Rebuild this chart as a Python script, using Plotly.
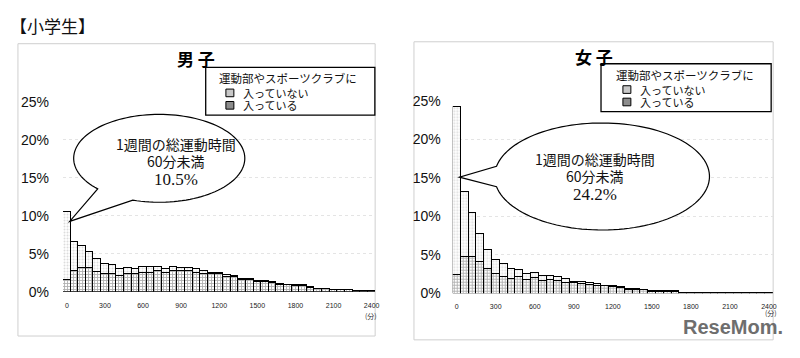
import numpy as np
import plotly.graph_objects as go

W, H = 800, 358
OFF = 8  # the page body adds an 8px margin around the figure; compensate

# ---------------- data (% of pupils) ----------------
minutes = list(range(0, 2401, 60))
x_ticks = list(range(0, 2401, 300))
y_ticks = [0, 5, 10, 15, 20, 25]
y_tick_text = ["0%", "5%", "10%", "15%", "20%", "25%"]

boys_club = [1.55, 2.7, 3.2, 3.2, 2.6, 2.3, 2.3, 2.1, 2.3, 2.3,
             2.5, 2.5, 2.7, 2.5, 2.7, 2.7, 2.7, 2.5, 2.4, 2.3,
             2.3, 2.0, 1.9, 1.6, 1.55, 1.3, 1.3, 1.1, 0.95, 0.85,
             0.8, 0.8, 0.55, 0.35, 0.35, 0.25, 0.25, 0.25, 0.12, 0.12, 0.12]
boys_noclub = [8.95, 3.8, 2.9, 2.1, 1.7, 1.3, 1.2, 0.85, 0.8, 0.7,
               0.8, 0.8, 0.6, 0.5, 0.6, 0.45, 0.45, 0.45, 0.4, 0.2,
               0.2, 0.2, 0.15, 0.1, 0.15, 0.1, 0.1, 0.15, 0.1, 0.05,
               0.05, 0.05, 0.08, 0.07, 0.07, 0.05, 0.05, 0.05, 0.03, 0.03, 0.03]

girls_club = [2.35, 4.75, 4.75, 4.05, 3.2, 2.5, 2.2, 1.85, 2.15, 1.75,
              2.0, 1.65, 1.75, 1.6, 1.4, 1.35, 1.3, 1.15, 1.05, 0.95,
              0.9, 0.7, 0.5, 0.5, 0.42, 0.22, 0.22, 0.22, 0.22, 0.04,
              0.04, 0.04, 0.04, 0.04, 0.04, 0.04, 0.04, 0.04, 0.04, 0.04, 0.04]
girls_noclub = [21.85, 8.45, 5.75, 3.7, 2.5, 1.85, 1.6, 1.35, 0.95, 0.75,
                0.7, 0.65, 0.55, 0.5, 0.5, 0.15, 0.2, 0.2, 0.15, 0.1,
                0.1, 0.1, 0.1, 0.1, 0.08, 0.06, 0.06, 0.06, 0.06, 0.02,
                0.02, 0.02, 0.02, 0.02, 0.02, 0.02, 0.02, 0.02, 0.02, 0.02, 0.02]

series_names = ["入っていない", "入っている"]
legend_title = "運動部やスポーツクラブに"
panel_titles = ["男 子", "女 子"]
bubble_line1 = "1週間の総運動時間"
bubble_line2 = "60分未満"
bubble_values = ["10.5%", "24.2%"]

JP = "Noto Sans CJK JP"
SANS = "Liberation Sans"
SERIF = "Liberation Serif"


def X(px):
    return (px - OFF) / W


def Y(py):
    return 1 - (py - OFF) / H


fig = go.Figure()

for club, noclub, xa, ya in [(boys_club, boys_noclub, "x", "y"),
                             (girls_club, girls_noclub, "x2", "y2")]:
    fig.add_bar(x=minutes, y=club, xaxis=xa, yaxis=ya, width=60, name=series_names[1],
                showlegend=False,
                marker=dict(color="white",
                            pattern=dict(shape="+", fgcolor="#5e5e5e", bgcolor="white",
                                         size=3, solidity=0.5),
                            line=dict(color="black", width=1.2)))
    fig.add_bar(x=minutes, y=noclub, xaxis=xa, yaxis=ya, width=60, name=series_names[0],
                showlegend=False,
                marker=dict(color="white",
                            pattern=dict(shape=".", fgcolor="#b8b8b8", bgcolor="white",
                                         size=3, solidity=0.35),
                            line=dict(color="black", width=1.2)))

xaxis_common = dict(range=[-30, 2430], tickvals=x_ticks, showgrid=False, zeroline=False,
                    showline=False, ticks="", ticklabelstandoff=8,
                    tickfont=dict(family=SANS, size=7, color="#222"))
yaxis_common = dict(range=[0, 25], tickvals=y_ticks, ticktext=y_tick_text, zeroline=False,
                    showline=False, ticks="", showgrid=True, gridcolor="#e4e4e4",
                    griddash="dot", gridwidth=1,
                    tickfont=dict(family=SANS, size=14, color="#111"))

fig.update_layout(
    width=W, height=H, margin=dict(l=0, r=0, t=0, b=0),
    paper_bgcolor="white", plot_bgcolor="white",
    barmode="stack", bargap=0, showlegend=False,
    xaxis=dict(domain=[X(63.3), X(377.3)], anchor="y", **xaxis_common),
    yaxis=dict(domain=[Y(296.7), Y(98)], anchor="x", ticklabelstandoff=13, **yaxis_common),
    xaxis2=dict(domain=[X(455), X(776.7)], anchor="y2", **xaxis_common),
    yaxis2=dict(domain=[Y(298.3), Y(96.7)], anchor="x2", ticklabelstandoff=11, **yaxis_common),
)

shapes = []
annotations = []

# panel frames
for (x0, y0, x1, y1) in [(18, 37, 377, 343), (416, 35, 777, 347)]:
    shapes.append(dict(type="rect", xref="paper", yref="paper", x0=X(x0), y0=Y(y1),
                       x1=X(x1), y1=Y(y0), line=dict(color="#cfcfcf", width=1),
                       fillcolor="rgba(0,0,0,0)", layer="below"))


# speech bubbles
def bubble(cx, cy, rx, ry, t0, t1, tip):
    ts = np.radians(np.linspace(t0, t1, 120))
    xs = cx + rx * np.cos(ts)
    ys = cy + ry * np.sin(ts)
    pts = [(X(a), Y(b)) for a, b in zip(xs, ys)]
    pts.append((X(tip[0]), Y(tip[1])))
    path = "M " + " L ".join(f"{a:.5f},{b:.5f}" for a, b in pts) + " Z"
    return dict(type="path", xref="paper", yref="paper", path=path,
                fillcolor="white", line=dict(color="black", width=1.2), layer="above")


shapes.append(bubble(160, 157, 86, 46, 136, 108 + 360, (70, 223)))
shapes.append(bubble(605, 176, 108, 56, 191, 169 + 360, (461.7, 176.7)))

for (cx, y1, y2, y3, val) in [(177, 142, 160, 179, bubble_values[0]),
                              (598, 158, 175, 195, bubble_values[1])]:
    annotations.append(dict(xref="paper", yref="paper", x=X(cx), y=Y(y1), text=bubble_line1,
                            showarrow=False, xanchor="center", yanchor="middle",
                            font=dict(family=JP, size=14, color="#111")))
    annotations.append(dict(xref="paper", yref="paper", x=X(cx), y=Y(y2), text=bubble_line2,
                            showarrow=False, xanchor="center", yanchor="middle",
                            font=dict(family=JP, size=14, color="#111")))
    annotations.append(dict(xref="paper", yref="paper", x=X(cx), y=Y(y3), text=val,
                            showarrow=False, xanchor="center", yanchor="middle",
                            font=dict(family=SERIF, size=17, color="#111")))

# legends (drawn by hand)
for (bx0, by0, bx1, by1, tx, ty, sy1, sy2) in [(206.7, 61.7, 376.7, 111.7, 218, 73, 88.5, 101.5),
                                               (604, 58, 775, 108, 617, 70, 85, 98)]:
    shapes.append(dict(type="rect", xref="paper", yref="paper", x0=X(bx0), y0=Y(by1),
                       x1=X(bx1), y1=Y(by0), line=dict(color="black", width=1.3),
                       fillcolor="white", layer="above"))
    annotations.append(dict(xref="paper", yref="paper", x=X(tx), y=Y(ty), text=legend_title,
                            showarrow=False, xanchor="left", yanchor="middle",
                            font=dict(family=JP, size=11.5, color="#111")))
    sx = tx + 9
    for sy, col, name in [(sy1, "#c8c8c8", series_names[0]), (sy2, "#8c8c8c", series_names[1])]:
        shapes.append(dict(type="rect", xref="paper", yref="paper", x0=X(sx), y0=Y(sy + 4),
                           x1=X(sx + 8), y1=Y(sy - 4), line=dict(color="black", width=1),
                           fillcolor=col, layer="above"))
        annotations.append(dict(xref="paper", yref="paper", x=X(sx + 15), y=Y(sy), text=name,
                                showarrow=False, xanchor="left", yanchor="middle",
                                font=dict(family=JP, size=11, color="#111")))

# titles
annotations.append(dict(xref="paper", yref="paper", x=X(8), y=Y(18), text="【小学生】",
                        showarrow=False, xanchor="left", yanchor="middle",
                        font=dict(family=JP, size=17, color="#111")))
for (tx, ty, t) in [(197, 52, panel_titles[0]), (597, 50, panel_titles[1])]:
    annotations.append(dict(xref="paper", yref="paper", x=X(tx), y=Y(ty), text=f"<b>{t}</b>",
                            showarrow=False, xanchor="center", yanchor="middle",
                            font=dict(family=JP, size=17, color="#000")))

# unit labels
for (ux, uy) in [(373, 322), (775, 319)]:
    annotations.append(dict(xref="paper", yref="paper", x=X(ux), y=Y(uy), text="(分)",
                            showarrow=False, xanchor="center", yanchor="middle",
                            font=dict(family=JP, size=7, color="#333")))

# watermark
annotations.append(dict(xref="paper", yref="paper", x=X(737), y=Y(334), text="<b>ReseMom.</b>",
                        showarrow=False, xanchor="center", yanchor="middle",
                        font=dict(family=SANS, size=20, color="#6e6e6e")))

fig.update_layout(shapes=shapes, annotations=annotations)
fig.write_html("out.html")
